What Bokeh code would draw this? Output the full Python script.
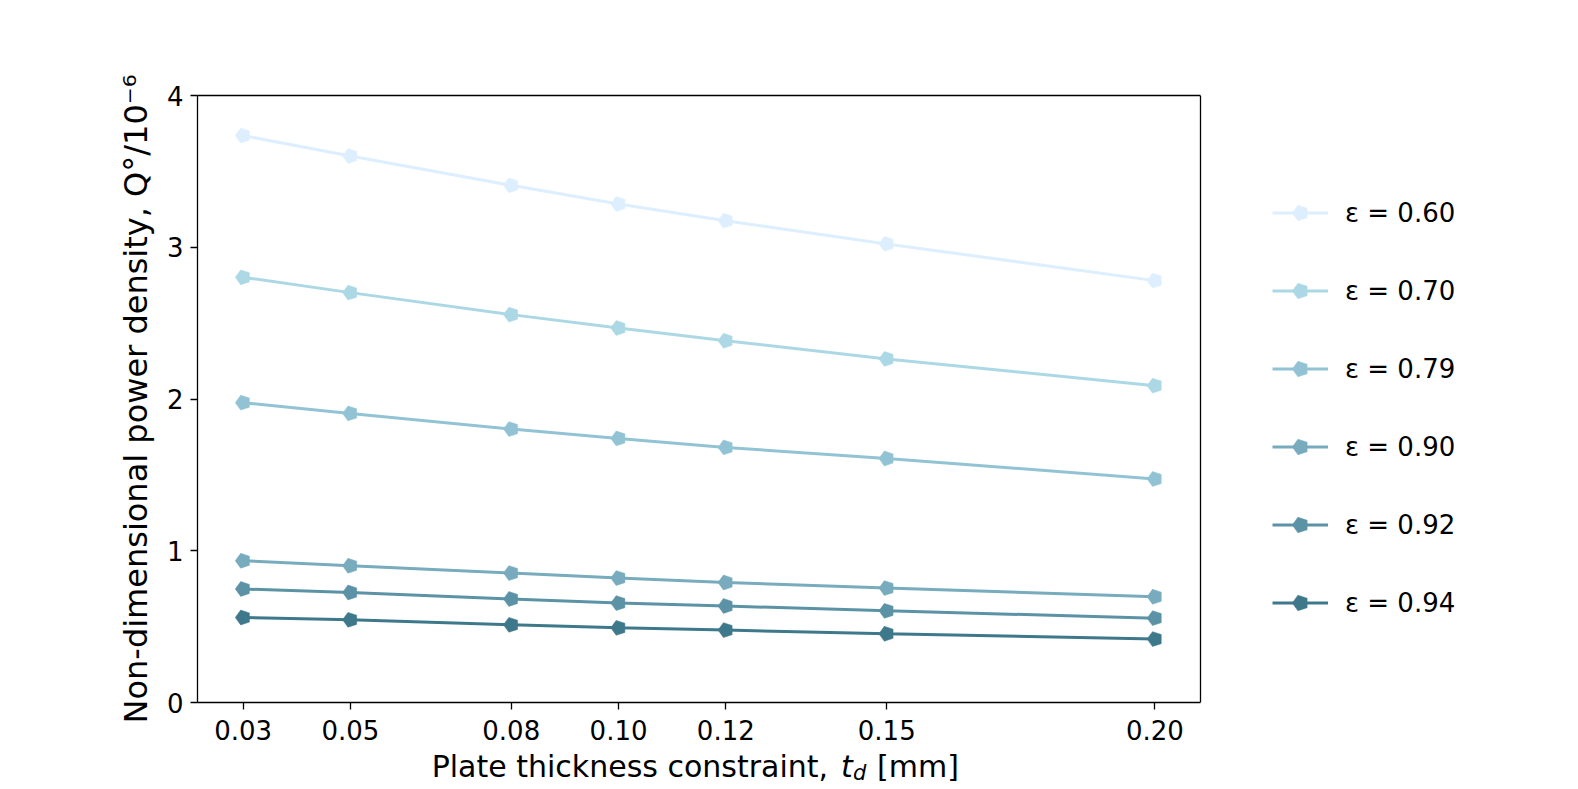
import math
from bokeh.plotting import figure
from bokeh.models import (Range1d, FixedTicker, PrintfTickFormatter, Legend, Label,
                          LinearAxis, Span)
from bokeh.embed import file_html
from bokeh.resources import INLINE

# ---- data ----
thickness = [0.03, 0.05, 0.08, 0.10, 0.12, 0.15, 0.20]
x_tick_labels = ["0.03", "0.05", "0.08", "0.10", "0.12", "0.15", "0.20"]
y_ticks = [0, 1, 2, 3, 4]
eps_labels = ["ε = 0.60", "ε = 0.70", "ε = 0.79", "ε = 0.90", "ε = 0.92", "ε = 0.94"]
q_060 = [3.736, 3.601, 3.408, 3.285, 3.175, 3.022, 2.780]
q_070 = [2.802, 2.701, 2.556, 2.468, 2.384, 2.264, 2.088]
q_079 = [1.976, 1.905, 1.802, 1.740, 1.681, 1.608, 1.473]
q_090 = [0.934, 0.901, 0.853, 0.820, 0.791, 0.754, 0.697]
q_092 = [0.748, 0.725, 0.682, 0.655, 0.636, 0.604, 0.556]
q_094 = [0.560, 0.545, 0.512, 0.492, 0.477, 0.453, 0.418]
series = [q_060, q_070, q_079, q_090, q_092, q_094]
colors = ["#ddeeff", "#acd8e5", "#92c3d4", "#77abbd", "#5b92a5", "#3e788b"]

FONT = "DejaVu Sans"

# axes box spans x = 0.0215 .. 0.2085 over 1003 px; the frame continues to the
# right edge of the canvas so that the legend can sit inside it
W, H = 1570, 781
LEFT, TOP, BOTTOM = 197, 95, 79
X0, X1 = 0.0215, 0.2085
per_px = (X1 - X0) / 1003.0
x_end = X0 + (W - LEFT) * per_px

p = figure(width=W, height=H, output_backend="svg", toolbar_location=None,
           x_range=Range1d(X0, x_end), y_range=Range1d(0, 4),
           min_border_left=LEFT, min_border_right=0, min_border_top=TOP,
           min_border_bottom=BOTTOM)
p.background_fill_color = "white"
p.border_fill_color = "white"
p.outline_line_color = None
p.xgrid.visible = False
p.ygrid.visible = False

for ax in (p.xaxis[0], p.yaxis[0]):
    ax.axis_line_width = 1.3
    ax.major_tick_line_width = 1.3
    ax.major_tick_out = 7
    ax.major_tick_in = 0
    ax.minor_tick_out = 0
    ax.minor_tick_in = 0
    ax.major_label_text_font = FONT
    ax.major_label_text_font_size = "26px"
    ax.major_label_text_color = "black"
    ax.axis_label_text_font = FONT
    ax.axis_label_text_font_style = "normal"
    ax.axis_label_text_color = "black"

p.xaxis.bounds = (X0, X1)
p.xaxis.ticker = FixedTicker(ticks=thickness)
p.xaxis.formatter = PrintfTickFormatter(format="%.2f")
p.xaxis.major_label_standoff = 10
p.yaxis.ticker = FixedTicker(ticks=y_ticks)
p.yaxis.major_label_standoff = 7
p.yaxis.axis_label = "Non-dimensional power density, Q°/10⁻⁶"
p.yaxis.axis_label_text_font_size = "32px"
p.yaxis.axis_label_standoff = 9

# top and right edges of the axes box
top_axis = LinearAxis(bounds=(X0, X1), ticker=FixedTicker(ticks=[]),
                      major_tick_out=0, major_tick_in=0, minor_tick_out=0, minor_tick_in=0,
                      major_label_text_font_size="0px", major_label_standoff=0,
                      axis_line_width=1.3, axis_line_color="black")
p.add_layout(top_axis, "above")
p.add_layout(Span(location=X1, dimension="height", line_color="black", line_width=1.3))

items = []
for vals, col, lab in zip(series, colors, eps_labels):
    r1 = p.line(thickness, vals, line_color=col, line_width=3)
    r2 = p.ngon(thickness, vals, radius=7.8, radius_units="screen", n=5,
                angle=math.pi / 2, fill_color=col, line_color=col, line_width=0.5)
    items.append((lab, [r1, r2]))

legend = Legend(items=items, location=(1075, 79), orientation="vertical",
                glyph_width=56, glyph_height=41, label_height=41, spacing=37,
                label_standoff=17, padding=0, margin=0,
                label_text_font=FONT, label_text_font_size="26px",
                label_text_color="black",
                border_line_color=None, background_fill_alpha=0)
p.add_layout(legend, "center")

# composite x-axis label (positions from the first tick; kept in side panels so
# they are not clipped to the plotting area)
base_x = thickness[0]
lab_kw = dict(y=0, y_offset=-64, text_baseline="alphabetic", text_font=FONT, text_color="black")
p.add_layout(Label(x=base_x, x_offset=585, text="Plate thickness constraint,", text_align="right",
                   text_font_size="30px", **lab_kw), "above")
p.add_layout(Label(x=base_x, x_offset=610, y=0, y_offset=-70, text="d", text_align="left",
                   text_baseline="alphabetic", text_font=FONT, text_color="black",
                   text_font_style="italic", text_font_size="21px"), "above")
p.add_layout(Label(x=base_x, x_offset=598, text="t", text_align="left", text_font_style="italic",
                   text_font_size="30px", **lab_kw), "left")
p.add_layout(Label(x=base_x, x_offset=634, text="[mm]", text_align="left",
                   text_font_size="30px", **lab_kw), "left")

open("out.html", "w").write(file_html(p, INLINE))
